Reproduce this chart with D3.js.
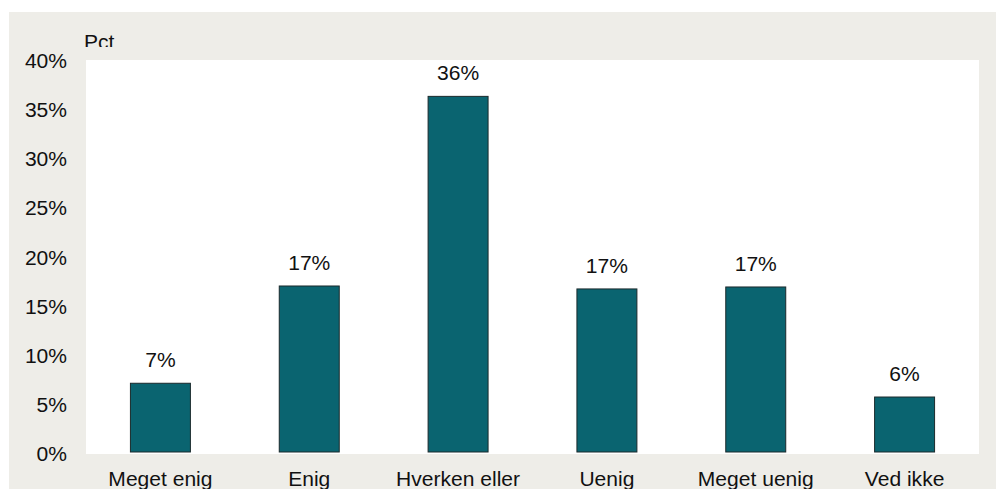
<!DOCTYPE html>
<html>
<head>
<meta charset="utf-8">
<script src="https://cdn.jsdelivr.net/npm/d3@7"></script>
<style>
  body { margin: 0; background: #fff; }
  svg { display: block; font-family: "Liberation Sans", Arial, sans-serif; }
</style>
</head>
<body>
<svg id="chart"></svg>
<script>
// data
const categories = ["Meget enig", "Enig", "Hverken eller", "Uenig", "Meget uenig", "Ved ikke"];
const values = [7.2, 17.1, 36.4, 16.8, 17.0, 5.8];
const valueLabels = ["7%", "17%", "36%", "17%", "17%", "6%"];
const yTicks = [0, 5, 10, 15, 20, 25, 30, 35, 40];

var width = 996, height = 489;
var plot = {left: 86, right: 979, top: 60, bottom: 454};
var fs = 19.5, stretch = 1.08;

var svg = d3.select("#chart")
  .attr("width", width)
  .attr("height", height);

// text is a little wider than the font, like the original export
function txt(sel, x, y) {
  return sel.attr("transform", (d, i) => `translate(${x(d, i)},${y(d, i)}) scale(${stretch},1)`)
    .attr("font-size", fs)
    .attr("fill", "#111");
}

// grey frame
svg.append("rect")
  .attr("x", 9).attr("y", 12)
  .attr("width", width - 9).attr("height", height - 12)
  .attr("fill", "#eeede8");

svg.append("clipPath").attr("id", "pctClip")
  .append("rect").attr("x", 0).attr("y", 0).attr("width", 200).attr("height", 47);

// "Pct" is cut off at the bottom
svg.append("g")
  .attr("clip-path", "url(#pctClip)")
  .append("text")
  .datum(0)
  .call(txt, () => 84, () => 48.5)
  .text("Pct");

svg.append("rect")
  .attr("x", plot.left).attr("y", plot.top)
  .attr("width", plot.right - plot.left).attr("height", plot.bottom - plot.top)
  .attr("fill", "#fff");

var x = d3.scaleBand()
  .domain(categories)
  .range([plot.left, plot.right])
  .paddingInner(0.597)
  .paddingOuter(0.2985);

var y = d3.scaleLinear()
  .domain([0, 40])
  .range([plot.bottom, plot.top + 1]);

// y labels
svg.append("g")
  .selectAll("text")
  .data(yTicks)
  .join("text")
  .attr("text-anchor", "end")
  .call(txt, () => 67, d => y(d) + 7)
  .text(d => d + "%");

// bars
svg.append("g")
  .selectAll("rect")
  .data(values)
  .join("rect")
  .attr("x", (d, i) => x(categories[i]))
  .attr("y", d => y(d))
  .attr("width", x.bandwidth())
  .attr("height", d => y(0) - y(d) - 2)
  .attr("fill", "#0a6470")
  .attr("stroke", "#1b2a2c")
  .attr("stroke-width", 1);

// value labels
svg.append("g")
  .selectAll("text")
  .data(values)
  .join("text")
  .attr("text-anchor", "middle")
  .call(txt, (d, i) => x(categories[i]) + x.bandwidth() / 2, d => y(d) - 16)
  .text((d, i) => valueLabels[i]);

// category labels
svg.append("g")
  .selectAll("text")
  .data(categories)
  .join("text")
  .attr("text-anchor", "middle")
  .call(txt, d => x(d) + x.bandwidth() / 2, () => 486)
  .text(d => d);
</script>
</body>
</html>
